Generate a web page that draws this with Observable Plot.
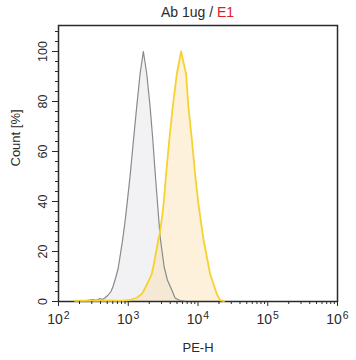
<!DOCTYPE html>
<html><head><meta charset="utf-8">
<script src="https://cdn.jsdelivr.net/npm/d3@7"></script>
<script src="https://cdn.jsdelivr.net/npm/@observablehq/plot@0.6"></script>
<style>
body{margin:0;background:#fff;font-family:"Liberation Sans",Arial,sans-serif;}
#wrap{position:relative;width:356px;height:360px;}
#title{position:absolute;top:4px;left:58px;width:279px;text-align:center;font-size:14px;color:#2b2b2b;z-index:2;}
#title .red{color:#d9232a;}
</style></head><body>
<div id="wrap"><div id="title"></div></div>
<script>
// PE-H intensity and Count [%]
const grayX = [172, 250, 313, 350, 394, 430, 465, 513, 566, 605, 668, 714, 763, 834, 900, 952, 1061, 1183, 1324, 1477, 1647, 1842, 2055, 2246, 2424, 2616, 2860, 3264, 3640, 4209, 4693, 5535, 6500];
const grayY = [0.3, 0.4, 0.8, 0.5, 1.2, 0.8, 1.5, 2.5, 4, 6, 10, 13, 18, 25, 32, 38, 50, 64, 78, 91, 100, 91, 78, 65, 52, 40, 26, 14, 8.6, 4.6, 1.4, 0.4, 0.2];
const yellowX = [172, 300, 500, 700, 842, 1061, 1324, 1562, 1647, 1943, 2173, 2291, 2703, 2860, 3126, 3264, 3486, 3888, 4350, 4965, 5722, 6748, 7281, 8150, 9085, 10138, 11955, 14920, 18620, 20750, 23680];
const yellowY = [0.3, 0.3, 0.4, 0.3, 0.3, 0.6, 1.5, 3, 4, 8, 11, 14, 24.6, 28, 36, 41, 51, 65, 78, 91, 100, 91, 78, 65, 51, 39, 25, 11, 3, 0.5, 0.2];
const yMajor = [0, 20, 40, 60, 80, 100];
const yMinor = [4, 8, 12, 16, 24, 28, 32, 36, 44, 48, 52, 56, 64, 68, 72, 76, 84, 88, 92, 96, 104, 108];
const xMajor = [1e2, 1e3, 1e4, 1e5, 1e6];
const xMinorMult = [2, 3, 4, 5, 6, 7, 8, 9];
const titleText = "Ab 1ug / ", titleRed = "E1";
const xLabel = "PE-H", yLabel = "Count [%]";

const gray = grayX.map((x, i) => ({x, y: grayY[i]}));
const yellow = yellowX.map((x, i) => ({x, y: yellowY[i]}));
const xMinor = xMajor.slice(0, -1).flatMap(d => xMinorMult.map(m => d * m));

const chart = Plot.plot({
  width: 356, height: 360,
  marginLeft: 58, marginRight: 19, marginTop: 25, marginBottom: 59,
  style: {fontFamily: "Liberation Sans, Arial, sans-serif", fontSize: "12px", color: "#2b2b2b", background: "transparent"},
  x: {type: "log", domain: [100, 1e6], axis: null},
  y: {domain: [0, 110.4], axis: null},
  marks: [
    Plot.areaY(gray, {x: "x", y: "y", fill: "#f2f2f4"}),
    Plot.areaY(yellow, {x: "x", y: "y", fill: "#f9d9a0", fillOpacity: 0.37}),
    Plot.frame({stroke: "#2a2a2a", strokeWidth: 1.5}),
    Plot.lineY(gray, {x: "x", y: "y", stroke: "#8a8a8a", strokeWidth: 1.2}),
    Plot.lineY(yellow, {x: "x", y: "y", stroke: "#f6d22e", strokeWidth: 1.8}),
    Plot.axisY(yMajor, {tickSize: 6, tickRotate: -90, tickPadding: 6, fontSize: 12.5, label: null, stroke: "#2a2a2a"}),
    Plot.axisY(yMinor, {tickSize: 3, tickFormat: () => "", label: null, stroke: "#2a2a2a"}),
    Plot.axisX(xMajor, {tickSize: 5, tickPadding: 8, fontSize: 14, label: null, stroke: "#2a2a2a",
      tickFormat: d => "10^" + Math.round(Math.log10(d))}),
    Plot.axisX(xMinor, {tickSize: 3, tickFormat: () => "", label: null, stroke: "#2a2a2a"}),
    Plot.text([xLabel], {frameAnchor: "bottom", dy: 46, fontSize: 13, fill: "#2b2b2b", lineAnchor: "middle"}),
    Plot.text([yLabel], {frameAnchor: "left", dx: -43, dy: 3, rotate: -90, fontSize: 13, fill: "#2b2b2b", lineAnchor: "middle"})
  ]
});

d3.select(chart).selectAll('g[aria-label="x-axis tick label"] text').each(function () {
  const parts = this.textContent.split("^");
  if (parts.length < 2) return;
  const s = d3.select(this);
  s.text(parts[0]);
  s.append("tspan").attr("dy", "-0.5em").attr("dx", "1").attr("font-size", "10.5px").text(parts[1]);
});

const t = document.getElementById("title");
t.append(titleText);
const sp = document.createElement("span"); sp.className = "red"; sp.textContent = titleRed; t.append(sp);
document.getElementById("wrap").append(chart);
</script>
</body></html>
